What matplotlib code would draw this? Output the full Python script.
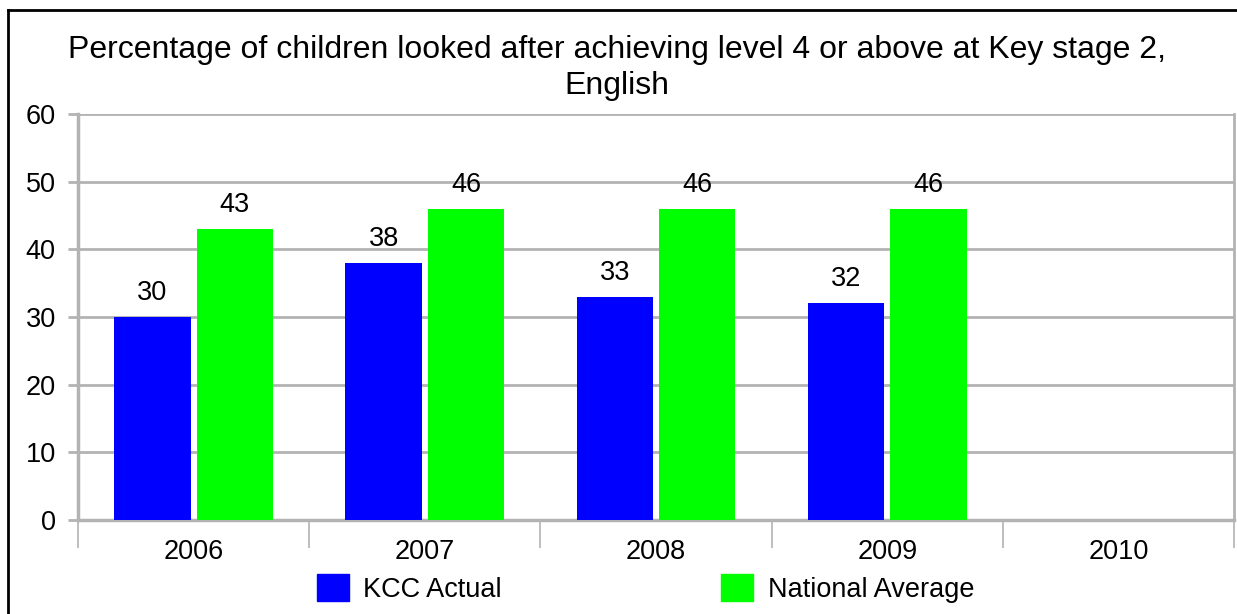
import numpy as np
import matplotlib.pyplot as plt
from matplotlib.lines import Line2D
from matplotlib.patches import Patch

plt.rcParams['font.family'] = ['Liberation Sans', 'DejaVu Sans']

years = ['2006', '2007', '2008', '2009', '2010']
kcc_actual = [30, 38, 33, 32, np.nan]
national_avg = [43, 46, 46, 46, np.nan]
series_names = ['KCC Actual', 'National Average']
title = 'Percentage of children looked after achieving level 4 or above at Key stage 2,\nEnglish'

blue = '#0000FF'
green = '#00FF00'
grey = '#B3B3B3'
fs = 19.5

fig = plt.figure(figsize=(12.37, 6.14), dpi=100)
ax = fig.add_axes([78 / 1237, 1 - 520 / 614, (1234 - 78) / 1237, (520 - 114) / 614])

x = np.arange(len(years))
w = 0.33
off = 0.178
b1 = ax.bar(x - off, kcc_actual, w, color=blue, zorder=3)
b2 = ax.bar(x + off, national_avg, w, color=green, zorder=3)
for bars, vals in ((b1, kcc_actual), (b2, national_avg)):
    for rect, v in zip(bars, vals):
        if np.isnan(v):
            continue
        ax.annotate('%d' % v, (rect.get_x() + rect.get_width() / 2, v),
                    xytext=(0, 8), textcoords='offset points',
                    ha='center', va='bottom', fontsize=fs)

ax.set_xlim(-0.5, len(years) - 0.5)
ax.set_ylim(0, 60)
ax.set_yticks(range(0, 61, 10))
ax.set_xticks(x)
ax.set_xticklabels(years)
ax.set_xticks(np.arange(-0.5, len(years)), minor=True)
ax.tick_params(axis='x', which='major', length=0, pad=14, labelsize=fs)
ax.tick_params(axis='x', which='minor', length=20, width=1.2, color=grey)
ax.tick_params(axis='y', length=7, width=2, color=grey, pad=9, labelsize=fs)
ax.yaxis.grid(True, color=grey, linewidth=2, zorder=0)
for side in ['left', 'right', 'top', 'bottom']:
    ax.spines[side].set_color(grey)
ax.spines['left'].set_linewidth(2.5)
ax.spines['bottom'].set_linewidth(2.5)
ax.spines['right'].set_linewidth(2)
ax.spines['top'].set_visible(False)

fig.text(0.499, 1 - 35 / 614, title, ha='center', va='top', fontsize=23,
         linespacing=1.25)

handles = [Patch(color=blue), Patch(color=green)]
fig.legend(handles, series_names, loc='center', bbox_to_anchor=(0.522, 0.042),
           ncol=2, frameon=False, fontsize=fs, handlelength=1.15, handleheight=1.15,
           handletextpad=0.55, columnspacing=8.1, borderpad=0)

# outer chart border (left and top edges visible)
fig.add_artist(Line2D([8 / 1237, 8 / 1237], [0, 1 - 10 / 614], color='black', lw=2, transform=fig.transFigure))
fig.add_artist(Line2D([8 / 1237, 1], [1 - 10 / 614, 1 - 10 / 614], color='black', lw=2, transform=fig.transFigure))

fig.savefig('out.png', dpi=100)
